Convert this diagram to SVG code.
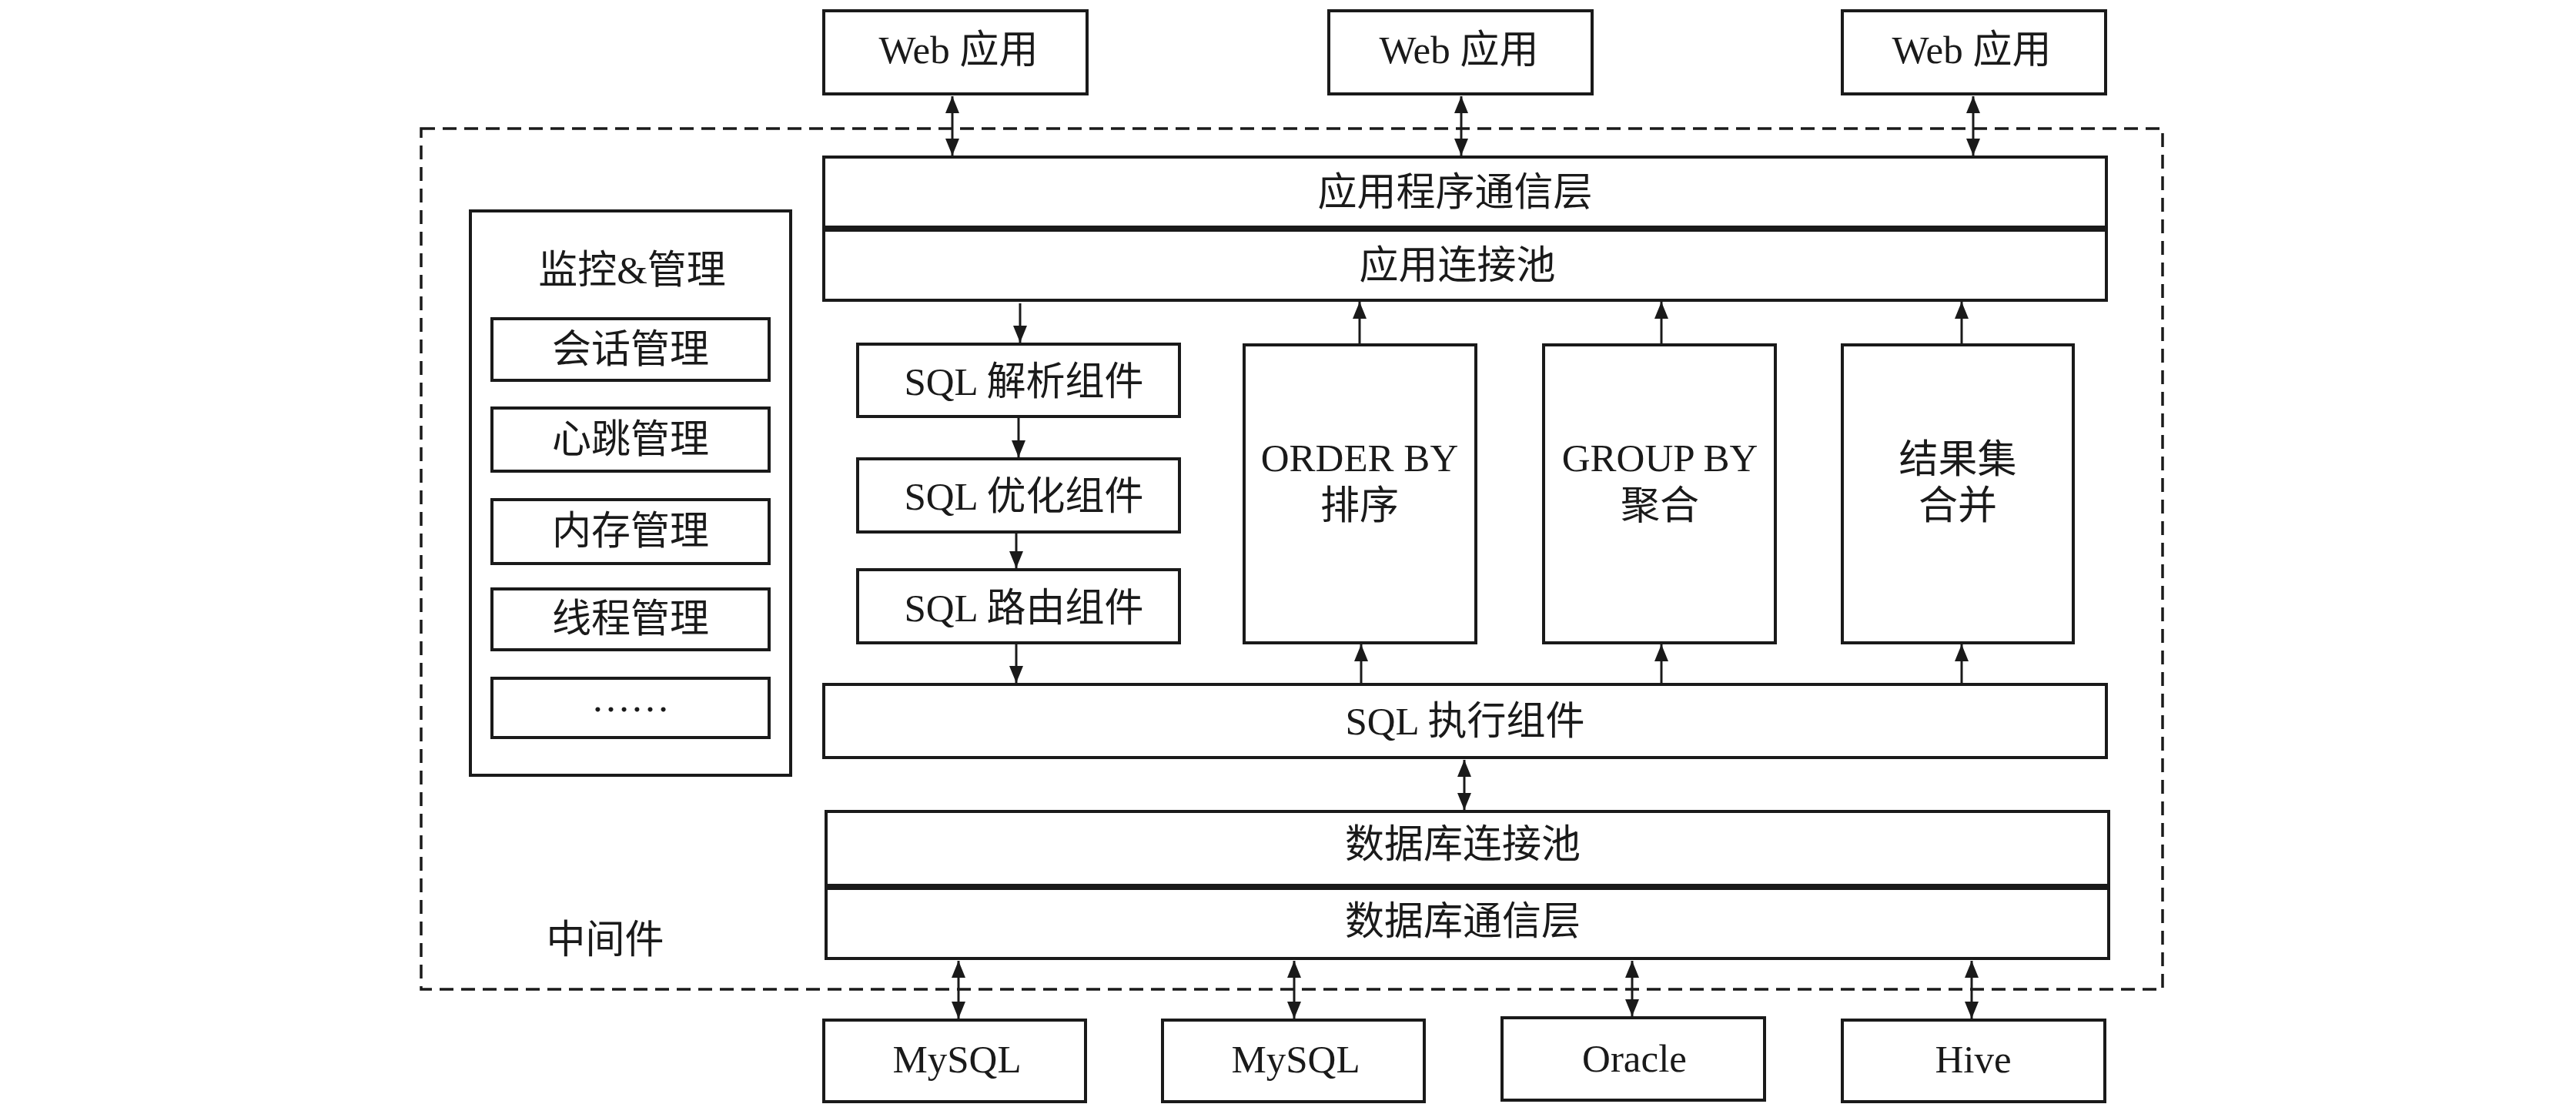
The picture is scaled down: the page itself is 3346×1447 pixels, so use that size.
<svg xmlns="http://www.w3.org/2000/svg" width="3346" height="1447" viewBox="0 0 3346 1447">
<style>
.box{fill:#fff;stroke:#1a1a1a;stroke-width:4}
.t{font-family:"Liberation Serif","Noto Sans CJK SC",serif;font-size:51px;fill:#1a1a1a;text-anchor:middle}
.c{stroke:#1a1a1a;stroke-width:3;fill:none}
.dash{fill:none;stroke:#1a1a1a;stroke-width:3.5;stroke-dasharray:18 10}
</style>
<defs>
<marker id="ah" markerUnits="userSpaceOnUse" markerWidth="22" markerHeight="18" refX="22" refY="9" orient="auto-start-reverse" viewBox="0 0 22 18">
<path d="M0,0 L22,9 L0,18 z" fill="#1a1a1a"/>
</marker>
</defs>
<rect width="3346" height="1447" fill="#fff"/>
<g id="middleware">
<rect class="dash" x="547" y="167" width="2262" height="1118"/>
<text class="t" x="786" y="1238">中间件</text>
</g>
<g id="web1"><rect class="box" x="1070" y="14" width="342" height="108"/><text class="t" x="1245" y="82">Web 应用</text></g>
<g id="web2"><rect class="box" x="1726" y="14" width="342" height="108"/><text class="t" x="1895" y="82">Web 应用</text></g>
<g id="web3"><rect class="box" x="2393" y="14" width="342" height="108"/><text class="t" x="2561" y="82">Web 应用</text></g>
<g id="app-comm"><rect class="box" x="1070" y="204" width="1666" height="91"/><text class="t" x="1890" y="267">应用程序通信层</text></g>
<g id="app-pool"><rect class="box" x="1070" y="299" width="1666" height="91"/><text class="t" x="1893" y="362">应用连接池</text></g>
<g id="monitor">
<rect class="box" x="611" y="274" width="416" height="733"/>
<text class="t" x="821" y="368">监控&amp;管理</text>
</g>
<g id="session"><rect class="box" x="639" y="414" width="360" height="80"/><text class="t" x="819" y="471">会话管理</text></g>
<g id="heartbeat"><rect class="box" x="639" y="530" width="360" height="82"/><text class="t" x="819" y="588">心跳管理</text></g>
<g id="memory"><rect class="box" x="639" y="649" width="360" height="83"/><text class="t" x="819" y="707">内存管理</text></g>
<g id="thread"><rect class="box" x="639" y="765" width="360" height="79"/><text class="t" x="819" y="821">线程管理</text></g>
<g id="more"><rect class="box" x="639" y="881" width="360" height="77"/><text class="t" x="819" y="924">……</text></g>
<g id="sql-parse"><rect class="box" x="1114" y="447" width="418" height="94"/><text class="t" x="1330" y="513">SQL 解析组件</text></g>
<g id="sql-opt"><rect class="box" x="1114" y="596" width="418" height="95"/><text class="t" x="1330" y="662">SQL 优化组件</text></g>
<g id="sql-route"><rect class="box" x="1114" y="740" width="418" height="95"/><text class="t" x="1330" y="807">SQL 路由组件</text></g>
<g id="order-by"><rect class="box" x="1616" y="448" width="301" height="387"/><text class="t" x="1766" y="612">ORDER BY</text><text class="t" x="1766" y="674">排序</text></g>
<g id="group-by"><rect class="box" x="2005" y="448" width="301" height="387"/><text class="t" x="2156" y="612">GROUP BY</text><text class="t" x="2156" y="674">聚合</text></g>
<g id="merge"><rect class="box" x="2393" y="448" width="300" height="387"/><text class="t" x="2543" y="614">结果集</text><text class="t" x="2543" y="674">合并</text></g>
<g id="sql-exec"><rect class="box" x="1070" y="889" width="1666" height="95"/><text class="t" x="1903" y="954">SQL 执行组件</text></g>
<g id="db-pool"><rect class="box" x="1073" y="1054" width="1666" height="96"/><text class="t" x="1900" y="1114">数据库连接池</text></g>
<g id="db-comm"><rect class="box" x="1073" y="1154" width="1666" height="91"/><text class="t" x="1900" y="1214">数据库通信层</text></g>
<g id="mysql1"><rect class="box" x="1070" y="1325" width="340" height="106"/><text class="t" x="1243" y="1393">MySQL</text></g>
<g id="mysql2"><rect class="box" x="1510" y="1325" width="340" height="106"/><text class="t" x="1683" y="1393">MySQL</text></g>
<g id="oracle"><rect class="box" x="1951" y="1322" width="341" height="107"/><text class="t" x="2123" y="1392">Oracle</text></g>
<g id="hive"><rect class="box" x="2393" y="1325" width="341" height="106"/><text class="t" x="2563" y="1393">Hive</text></g>
<g id="connectors">
<line class="c" x1="1237" y1="125" x2="1237" y2="202" marker-start="url(#ah)" marker-end="url(#ah)"/>
<line class="c" x1="1898" y1="125" x2="1898" y2="202" marker-start="url(#ah)" marker-end="url(#ah)"/>
<line class="c" x1="2563" y1="125" x2="2563" y2="202" marker-start="url(#ah)" marker-end="url(#ah)"/>
<line class="c" x1="1325" y1="394" x2="1325" y2="445" marker-end="url(#ah)"/>
<line class="c" x1="1323" y1="543" x2="1323" y2="594" marker-end="url(#ah)"/>
<line class="c" x1="1320" y1="693" x2="1320" y2="738" marker-end="url(#ah)"/>
<line class="c" x1="1320" y1="837" x2="1320" y2="887" marker-end="url(#ah)"/>
<line class="c" x1="1766" y1="446" x2="1766" y2="392" marker-end="url(#ah)"/>
<line class="c" x1="2158" y1="446" x2="2158" y2="392" marker-end="url(#ah)"/>
<line class="c" x1="2548" y1="446" x2="2548" y2="392" marker-end="url(#ah)"/>
<line class="c" x1="1768" y1="887" x2="1768" y2="837" marker-end="url(#ah)"/>
<line class="c" x1="2158" y1="887" x2="2158" y2="837" marker-end="url(#ah)"/>
<line class="c" x1="2548" y1="887" x2="2548" y2="837" marker-end="url(#ah)"/>
<line class="c" x1="1902" y1="987" x2="1902" y2="1052" marker-start="url(#ah)" marker-end="url(#ah)"/>
<line class="c" x1="1245" y1="1248" x2="1245" y2="1323" marker-start="url(#ah)" marker-end="url(#ah)"/>
<line class="c" x1="1681" y1="1248" x2="1681" y2="1323" marker-start="url(#ah)" marker-end="url(#ah)"/>
<line class="c" x1="2120" y1="1248" x2="2120" y2="1320" marker-start="url(#ah)" marker-end="url(#ah)"/>
<line class="c" x1="2561" y1="1248" x2="2561" y2="1323" marker-start="url(#ah)" marker-end="url(#ah)"/>
</g>
</svg>
